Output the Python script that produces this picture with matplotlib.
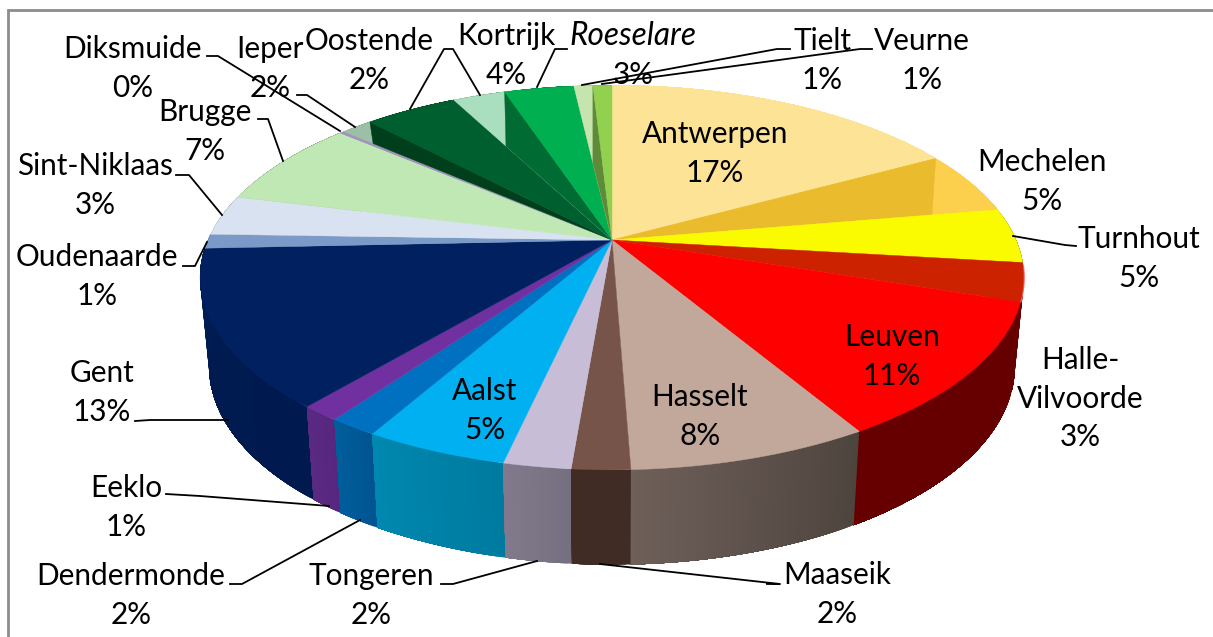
import numpy as np
import matplotlib
matplotlib.use("Agg")
import matplotlib.pyplot as plt
from matplotlib.patches import Polygon

# Slices, clockwise from 12 o'clock
cities = ["Antwerpen", "Mechelen", "Turnhout", "Halle-\nVilvoorde", "Leuven", "Hasselt", "Maaseik",
          "Tongeren", "Aalst", "Dendermonde", "Eeklo", "Gent", "Oudenaarde", "Sint-Niklaas", "Brugge",
          "Diksmuide", "Ieper", "Kortrijk", "Oostende", "Roeselare", "Tielt", "Veurne"]
values = [17.0, 5.3, 4.6, 3.2, 11.4, 7.9, 1.9, 2.2, 4.7, 1.6, 1.3, 13.2, 1.2, 3.4, 7.4,
          0.2, 1.5, 4.4, 2.5, 3.3, 0.9, 0.9]
pct_labels = ["17%", "5%", "5%", "3%", "11%", "8%", "2%", "2%", "5%", "2%", "1%", "13%", "1%", "3%", "7%",
              "0%", "2%", "4%", "2%", "3%", "1%", "1%"]

top_colors = ["#FDE396", "#FCCF4D", "#FBFB00", "#CC2200", "#FF0000", "#C2A79B", "#77544A", "#C8BDD6",
              "#00B0F0", "#0070C0", "#7030A0", "#002060", "#7C9AC8", "#D9E2F0", "#C0E8B4", "#A590C4",
              "#9DBFA8", "#005F2E", "#A9DFBF", "#00B050", "#C6E5AE", "#92D050"]
# side wall colours, left and right end of the gradient as seen on screen
side_left = ["#FDE396", "#FCCF4D", "#8A8A00", "#660000", "#660000", "#6E5F59", "#402C25", "#827A8C",
             "#0088B0", "#005E9C", "#5A2A82", "#011C52", "#4A5C78", "#8A9099", "#7A9072", "#A590C4",
             "#5F7565", "#003F1C", "#6A8A78", "#006B33", "#7A8C6A", "#5F8A3A"]
side_right = ["#FDE396", "#FCCF4D", "#8A8A00", "#660000", "#660000", "#4E443E", "#402C25", "#75707F",
              "#007A9F", "#005390", "#572780", "#001A4F", "#4A5C78", "#8A9099", "#7A9072", "#A590C4",
              "#5F7565", "#003F1C", "#6A8A78", "#006B33", "#7A8C6A", "#5F8A3A"]

# Slices whose top face is split: inner colour, fraction along the edge, edge holding the inner point
split_faces = {
    "Mechelen": ("#EBBB2E", 0.83, "end"),
    "Ieper": ("#003F1C", 0.89, "start"),
    "Oostende": ("#006B33", 0.67, "start"),
    "Tielt": ("#5F8A3A", 0.50, "start"),
}

# Label layout (pixel centre of first line)
label_x = [715, 1042, 1139, 1080, 892, 700, 837, 371, 485, 131, 126, 102, 97, 95, 205, 133, 270, 506, 369, 633, 822, 922]
label_y = [133, 161, 238, 359, 336, 396, 574, 575, 390, 575, 487, 372, 256, 165, 111, 48, 48, 35, 40, 35, 40, 40]
line_step = 38.5

leaders = [
    [(207, 56), (218, 56), (340, 131)],
    [(297, 95), (307, 95), (355, 127)],
    [(410, 109), (444, 49), (453, 49), (480, 95)],
    [(567, 49), (555, 49), (537, 87)],
    [(790, 49), (777, 49), (582, 85)],
    [(872, 49), (860, 49), (602, 84)],
    [(1013, 236), (1065, 245), (1076, 246)],
    [(258, 119), (268, 119), (283, 161)],
    [(176, 175), (189, 175), (222, 215)],
    [(183, 266), (195, 266), (207, 242)],
    [(135, 421), (150, 420), (228, 420)],
    [(166, 494), (200, 496), (329, 506)],
    [(230, 584), (242, 584), (360, 520)],
    [(441, 584), (453, 584), (537, 561)],
    [(767, 584), (780, 584), (600, 564)],
]

# Pie projection, in pixels
cx, cy = 612, 240
rx, ry, k = 404, 185, 0.195
depth, side_scale_x, side_scale_y = 88, 0.978, 1.03


def top_point(angle):
    # angle in degrees, clockwise from the top of the pie
    a = np.radians(angle)
    u, v = np.sin(a), -np.cos(a)
    w = 1 - k * v
    return cx + rx * u / w, cy + ry * v / w


def bottom_point(angle):
    x, y = top_point(angle)
    return cx + side_scale_x * (x - cx), cy + depth + side_scale_y * (y - cy)


def mix(c1, c2, t):
    a = np.array(matplotlib.colors.to_rgb(c1))
    b = np.array(matplotlib.colors.to_rgb(c2))
    return tuple(a + (b - a) * t)


fig = plt.figure(figsize=(12.13, 6.37), dpi=100)
ax = fig.add_axes([0, 0, 1, 1])
ax.set_xlim(0, 1213)
ax.set_ylim(637, 0)
ax.axis("off")

# Chart frame
ax.plot([7.5, 7.5, 1213], [637, 9.5, 9.5], color="#8C8C8C", lw=2, solid_joinstyle="miter")

edges = np.concatenate([[0], np.cumsum(values)]) / np.sum(values) * 360

# Side walls first, back to front, the top faces hide the back part.
# Each strip runs on to the end of the slice so the next one covers the seam.
middles = (edges[:-1] + edges[1:]) / 2
for i in np.argsort(-np.abs(middles - 180)):
    steps = max(2, int((edges[i + 1] - edges[i]) * 2))
    angles = np.linspace(edges[i], edges[i + 1], steps + 1)
    for j in range(steps):
        # front walls run right to left as the angle grows
        color = mix(side_right[i], side_left[i], (j + 0.5) / steps)
        arc = np.linspace(angles[j], edges[i + 1], steps - j + 1)
        pts = [top_point(a) for a in arc] + [bottom_point(a) for a in arc[::-1]]
        ax.add_patch(Polygon(pts, closed=True, facecolor=color, edgecolor="none"))

# Top faces
for i, city in enumerate(cities):
    angles = np.linspace(edges[i], edges[i + 1], 40)
    rim = [top_point(a) for a in angles]
    ax.add_patch(Polygon([(cx, cy)] + rim, closed=True, facecolor=top_colors[i], edgecolor=top_colors[i], lw=0.3))
    if city in split_faces:
        inner_color, frac, edge = split_faces[city]
        start, end = rim[0], rim[-1]
        if edge == "end":
            p = (cx + frac * (end[0] - cx), cy + frac * (end[1] - cy))
            tri = [(cx, cy), start, p]
        else:
            p = (cx + frac * (start[0] - cx), cy + frac * (start[1] - cy))
            tri = [(cx, cy), end, p]
        ax.add_patch(Polygon(tri, closed=True, facecolor=inner_color, edgecolor=inner_color, lw=0.3))

# Thin light edge on the Halle-Vilvoorde rim
halle = cities.index("Halle-\nVilvoorde")
rim = [top_point(a) for a in np.linspace(edges[halle] + 0.8, edges[halle + 1], 12)]
ax.plot([p[0] + 0.3 for p in rim], [p[1] for p in rim], color="#FF6060", lw=0.8)

for line in leaders:
    ax.plot([p[0] for p in line], [p[1] for p in line], color="black", lw=1.3)

# Labels
for i, city in enumerate(cities):
    italic = city == "Roeselare"
    rows = city.split("\n")
    for n, row in enumerate(rows):
        ax.text(label_x[i], label_y[i] + n * line_step + 10, row, ha="center", va="baseline",
                fontsize=22.8 if italic else 21.4, family="Lato", style="italic" if italic else "normal", color="black")
    ax.text(label_x[i], label_y[i] + len(rows) * line_step + 10.5, pct_labels[i], ha="center", va="baseline",
            fontsize=21.4, family="Lato", color="black")

fig.savefig("out.png", dpi=100)
